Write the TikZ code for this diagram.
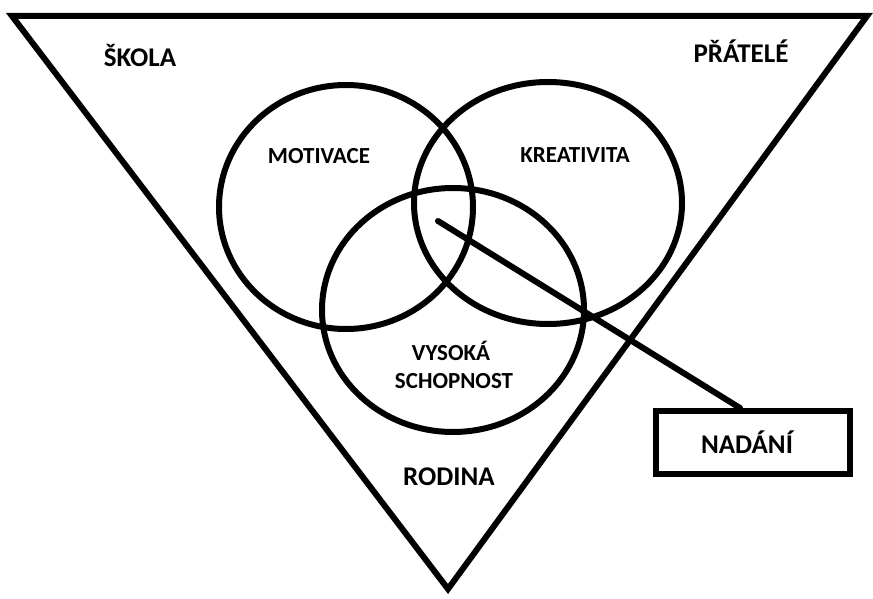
\documentclass[tikz,border=0pt]{standalone}
\usepackage{fontspec}
\setmainfont{Carlito}
\begin{document}
\begin{tikzpicture}[x=1pt,y=-1pt,
  thick line/.style={line width=6pt},
  big/.style={font=\bfseries\fontsize{27}{30}\selectfont, inner sep=0pt, anchor=base},
  small/.style={font=\bfseries\fontsize{23}{28}\selectfont, inner sep=0pt, anchor=base}]
\useasboundingbox (0,0) rectangle (873,599);
\coordinate (tl) at (12,16);
\coordinate (tr) at (867,16);
\coordinate (ap) at (448,589);
\draw[thick line, line join=miter] (tl) -- (tr) -- (ap) -- cycle;
\draw[thick line] (346,207) ellipse [x radius=127, y radius=122];
\draw[thick line] (548,203) ellipse [x radius=134, y radius=121];
\draw[thick line] (453,310) ellipse [x radius=131, y radius=122];
\node[big] (skola) at (140,67) {ŠKOLA};
\node[big] (pratele) at (741,63) {PŘÁTELÉ};
\node[big] (rodina) at (449,485) {RODINA};
\node[small] (motivace) at (319,164) {MOTIVACE};
\node[small] (kreativita) at (575,163) {KREATIVITA};
\node[small] (vysoka) at (451,360) {VYSOKÁ};
\node[small] (schopnost) at (454,388) {SCHOPNOST};
\node[thick line, draw, minimum width=194pt, minimum height=63pt, inner sep=0pt] (nadani) at (753,442.5) {};
\node[big] (nadanit) at (747,453) {NADÁNÍ};
\coordinate (ls) at (438,221);
\draw[thick line, line cap=round] (ls) -- (nadani.north -| 740,0);
\end{tikzpicture}
\end{document}
